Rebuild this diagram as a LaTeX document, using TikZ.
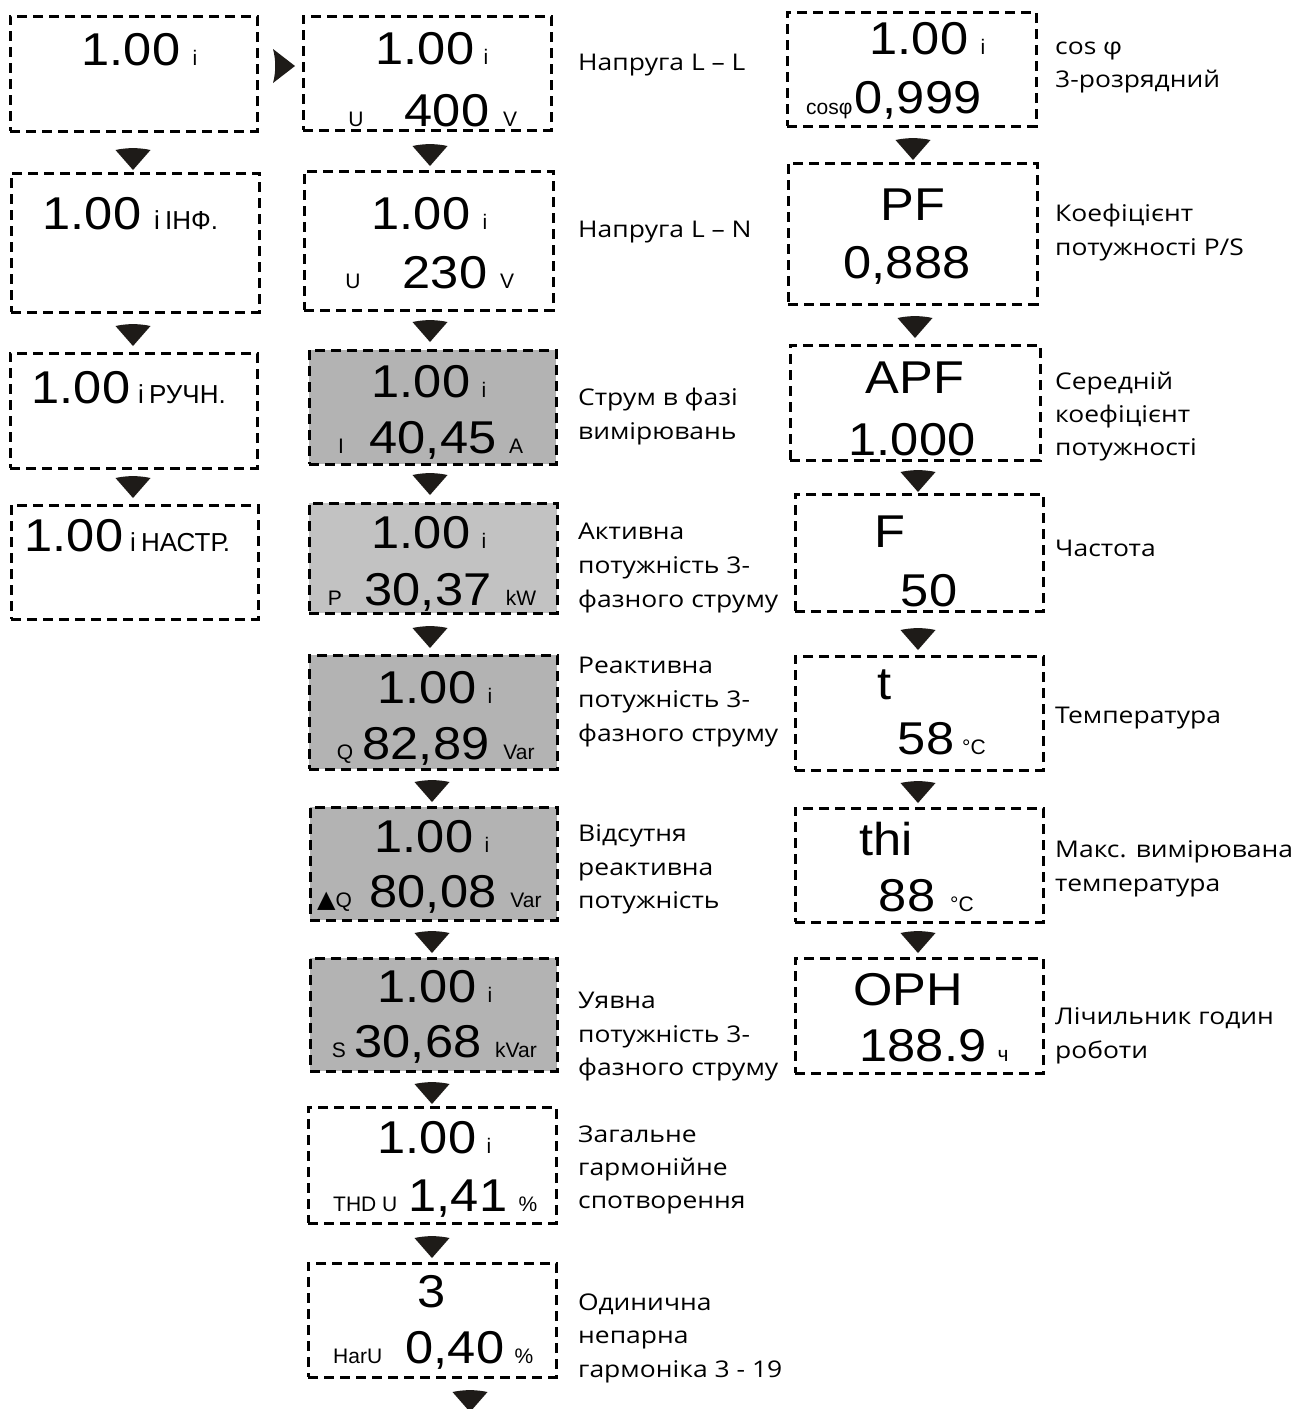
\documentclass[tikz,border=0pt]{standalone}
\usepackage{fontspec}
\setmainfont{Liberation Sans}
\newfontfamily\dispfont[FakeStretch=1.1]{Liberation Sans}
\newfontfamily\unitfont{Liberation Sans}
\newfontfamily\lblfont[FakeStretch=1.15]{Open Sans}
\newfontfamily\symfont{DejaVu Sans}
\usetikzlibrary{calc}

\definecolor{lcdgray}{HTML}{B3B3B3}
\definecolor{lcdlight}{HTML}{C2C2C2}
\definecolor{trifill}{HTML}{1E1B18}

\tikzset{
  scr/.style={draw=black, line width=3pt, dash pattern=on 10pt off 6pt, inner sep=0pt, outer sep=0pt},
  grayfill/.style={fill=lcdgray},
  lightfill/.style={fill=lcdlight},
  nofill/.style={},
  big/.style={inner sep=0pt, anchor=base, font=\dispfont\fontsize{46}{46}\selectfont},
  sm/.style={inner sep=0pt, anchor=base, font=\unitfont\fontsize{21}{21}\selectfont},
  smw/.style={inner sep=0pt, anchor=base west, font=\unitfont\fontsize{21}{21}\selectfont},
  menu/.style={inner sep=0pt, anchor=base west, font=\unitfont\fontsize{26}{26}\selectfont},
  lbl/.style={inner sep=0pt, anchor=base west, font=\lblfont\fontsize{23}{23}\selectfont},
  tri/.style={fill=trifill}
}

\newcommand\lcdbox[6]{\node[scr,#2,minimum width={(#5-#3)*1pt},minimum height={(#6-#4)*1pt}] (#1) at ({(#3+#5)/2},{(#4+#6)/2}) {};}
\newcommand\dtri[2]{\fill[tri] ({#1-17.5},#2) .. controls ({#1-6},{#2-2.5}) and ({#1+6},{#2-2.5}) .. ({#1+17.5},#2) -- (#1,{#2+20}) -- cycle;}

\begin{document}
\begin{tikzpicture}[x=1pt,y=-1pt]
\fill[white] (0,0) rectangle (1294,1409);
\useasboundingbox (0,0) rectangle (1294,1409);

% ---------- column A ----------
\lcdbox{A1}{nofill}{10}{16}{257}{131}
\lcdbox{A2}{nofill}{11}{173}{259}{312}
\lcdbox{A3}{nofill}{10}{353}{257}{468}
\lcdbox{A4}{nofill}{11}{505}{258}{619}
\node[big] (a1v) at (131,65) {1.00};
\node[sm] (a1i) at (195,65) {i};
\node[big] (a2v) at (92,229) {1.00};
\node[menu] (a2m) at (154,229) {i\hspace{0.2em}ІНФ.};
\node[big] (a3v) at (81,403) {1.00};
\node[menu] (a3m) at (138,403) {i\hspace{0.2em}РУЧН.};
\node[big] (a4v) at (74,551) {1.00};
\node[menu] (a4m) at (130,551) {i\hspace{0.2em}НАСТР.};
\dtri{133}{150}
\dtri{133}{326}
\dtri{133}{478}
\fill[tri] (273,49) .. controls (276,60) and (276,72) .. (273,83) -- (295,66) -- cycle;

% ---------- column B ----------
\lcdbox{B1}{nofill}{303}{16}{551}{130}
\lcdbox{B2}{nofill}{304}{171}{553}{310}
\lcdbox{B3}{grayfill}{309}{350}{556}{464}
\lcdbox{B4}{lightfill}{309}{503}{557}{613}
\lcdbox{B5}{grayfill}{309}{655}{557}{769}
\lcdbox{B6}{grayfill}{310}{807}{557}{920}
\lcdbox{B7}{grayfill}{310}{958}{557}{1071}
\lcdbox{B8}{nofill}{308}{1107}{556}{1223}
\lcdbox{B9}{nofill}{308}{1263}{556}{1377}

\node[big] (b1v) at (425,64) {1.00};   \node[sm] (b1i) at (486,64) {i};
\node[sm] (b1u) at (356,126) {U};      \node[big] (b1n) at (447,126) {400};   \node[sm] (b1s) at (510,126) {V};
\node[big] (b2v) at (421,229) {1.00};  \node[sm] (b2i) at (485,229) {i};
\node[sm] (b2u) at (353,288) {U};      \node[big] (b2n) at (445,288) {230};   \node[sm] (b2s) at (507,288) {V};
\node[big] (b3v) at (421,397) {1.00};  \node[sm] (b3i) at (484,397) {i};
\node[sm] (b3u) at (341,453) {I};      \node[big] (b3n) at (433,453) {40,45}; \node[sm] (b3s) at (516,453) {A};
\node[big] (b4v) at (421,548) {1.00};  \node[sm] (b4i) at (484,548) {i};
\node[sm] (b4u) at (335,605) {P};      \node[big] (b4n) at (428,605) {30,37}; \node[sm] (b4s) at (521,605) {kW};
\node[big] (b5v) at (427,703) {1.00};  \node[sm] (b5i) at (490,703) {i};
\node[sm] (b5u) at (345,759) {Q};      \node[big] (b5n) at (426,759) {82,89}; \node[sm] (b5s) at (519,759) {Var};
\node[big] (b6v) at (424,852) {1.00};  \node[sm] (b6i) at (487,852) {i};
\node[smw] (b6u) at (317,907) {{\symfont\fontsize{24}{24}\selectfont ▲}Q}; \node[big] (b6n) at (433,907) {80,08}; \node[sm] (b6s) at (526,907) {Var};
\node[big] (b7v) at (427,1002) {1.00}; \node[sm] (b7i) at (490,1002) {i};
\node[sm] (b7u) at (339,1057) {S};     \node[big] (b7n) at (418,1057) {30,68}; \node[sm] (b7s) at (516,1057) {kVar};
\node[big] (b8v) at (427,1153) {1.00}; \node[sm] (b8i) at (489,1153) {i};
\node[smw] (b8u) at (333,1211) {THD U}; \node[big] (b8n) at (458,1211) {1,41}; \node[sm] (b8s) at (528,1211) {\%};
\node[big] (b9v) at (432,1307) {3};
\node[smw] (b9u) at (333,1363) {HarU};  \node[big] (b9n) at (455,1363) {0,40}; \node[sm] (b9s) at (524,1363) {\%};

\dtri{430}{146}
\dtri{430}{322}
\dtri{430}{475}
\dtri{430}{628}
\dtri{432}{782}
\dtri{432}{933}
\dtri{432}{1084}
\dtri{432}{1238}
\dtri{470}{1392}

\node[lbl] (lb1) at (578,70) {Напруга L – L};
\node[lbl] (lb2) at (578,237) {Напруга L – N};
\node[lbl] (lb3a) at (578,405) {Струм в фазі};
\node[lbl] (lb3b) at (578,439) {вимірювань};
\node[lbl] (lb4a) at (578,539) {Активна};
\node[lbl] (lb4b) at (578,573) {потужність 3-};
\node[lbl] (lb4c) at (578,607) {фазного струму};
\node[lbl] (lb5a) at (578,673) {Реактивна};
\node[lbl] (lb5b) at (578,707) {потужність 3-};
\node[lbl] (lb5c) at (578,741) {фазного струму};
\node[lbl] (lb6a) at (578,841) {Відсутня};
\node[lbl] (lb6b) at (578,875) {реактивна};
\node[lbl] (lb6c) at (578,908) {потужність};
\node[lbl] (lb7a) at (578,1008) {Уявна};
\node[lbl] (lb7b) at (578,1042) {потужність 3-};
\node[lbl] (lb7c) at (578,1075) {фазного струму};
\node[lbl] (lb8a) at (578,1142) {Загальне};
\node[lbl] (lb8b) at (578,1175) {гармонійне};
\node[lbl] (lb8c) at (578,1208) {спотворення};
\node[lbl] (lb9a) at (578,1310) {Одинична};
\node[lbl] (lb9b) at (578,1343) {непарна};
\node[lbl] (lb9c) at (578,1377) {гармоніка 3 - 19};

% ---------- column C ----------
\lcdbox{C1}{nofill}{787}{12}{1036}{126}
\lcdbox{C2}{nofill}{788}{163}{1037}{304}
\lcdbox{C3}{nofill}{790}{345}{1040}{460}
\lcdbox{C4}{nofill}{795}{494}{1043}{611}
\lcdbox{C5}{nofill}{795}{656}{1043}{770}
\lcdbox{C6}{nofill}{795}{808}{1043}{922}
\lcdbox{C7}{nofill}{795}{958}{1043}{1073}

\node[big] (c1v) at (919,54) {1.00};   \node[sm] (c1i) at (983,54) {i};
\node[smw] (c1u) at (806,114) {cosφ};  \node[big] (c1n) at (918,113) {0,999};
\node[big] (c2v) at (913,220) {PF};    \node[big] (c2n) at (907,278) {0,888};
\node[big] (c3v) at (915,393) {APF};   \node[big] (c3n) at (912,455) {1.000};
\node[big] (c4v) at (890,547) {F};     \node[big] (c4n) at (929,606) {50};
\node[big] (c5v) at (885,699) {t};     \node[big] (c5n) at (926,754) {58};  \node[smw] (c5s) at (962,754) {°C};
\node[big] (c6v) at (886,855) {thi};   \node[big] (c6n) at (907,911) {88};  \node[smw] (c6s) at (950,911) {°C};
\node[big] (c7v) at (908,1005) {OPH};  \node[big] (c7n) at (923,1061) {188.9}; \node[sm] (c7s) at (1003,1061) {ч};

\dtri{913}{140}
\dtri{915}{318}
\dtri{918}{472}
\dtri{918}{630}
\dtri{918}{783}
\dtri{918}{933}

\node[lbl] (lc1a) at (1055,54) {cos φ};
\node[lbl] (lc1b) at (1055,87) {3-розрядний};
\node[lbl] (lc2a) at (1055,221) {Коефіцієнт};
\node[lbl] (lc2b) at (1055,255) {потужності P/S};
\node[lbl] (lc3a) at (1055,389) {Середній};
\node[lbl] (lc3b) at (1055,422) {коефіцієнт};
\node[lbl] (lc3c) at (1055,455) {потужності};
\node[lbl] (lc4) at (1055,556) {Частота};
\node[lbl] (lc5) at (1055,723) {Температура};
\node[lbl] (lc6a) at (1055,857) {Макс. вимірювана};
\node[lbl] (lc6b) at (1055,891) {температура};
\node[lbl] (lc7a) at (1055,1024) {Лічильник годин};
\node[lbl] (lc7b) at (1055,1058) {роботи};
\end{tikzpicture}
\end{document}
